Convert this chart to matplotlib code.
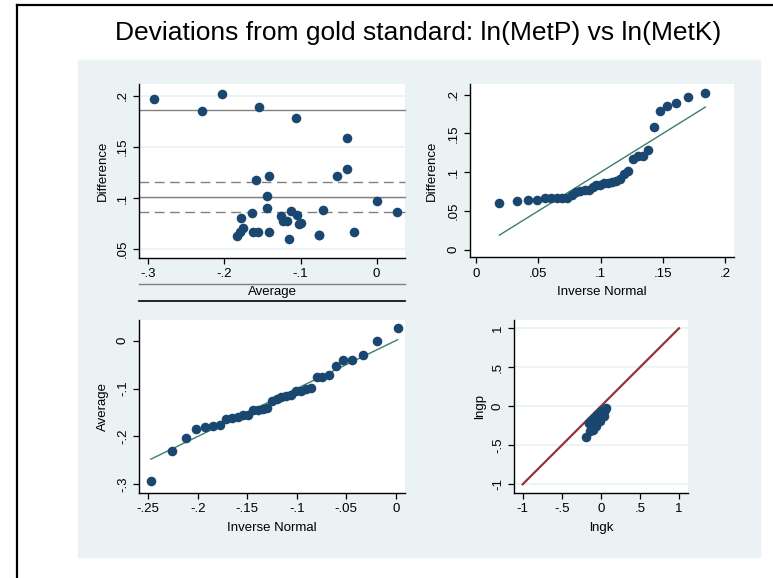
from statistics import NormalDist

import numpy as np
import matplotlib
matplotlib.use("Agg")
import matplotlib.pyplot as plt
from matplotlib.lines import Line2D
from matplotlib.patches import Rectangle

plt.rcParams["font.family"] = ["Liberation Sans", "DejaVu Sans"]

# Bland-Altman data: mean of the two logs and their difference
avg = [-0.2926, -0.230, -0.2028, -0.184, -0.1796, -0.1778, -0.1761, -0.1643,
       -0.162, -0.159, -0.156, -0.155, -0.1441, -0.1441, -0.1419, -0.1415,
       -0.1257, -0.1226, -0.1178, -0.1152, -0.1126, -0.1056, -0.1047, -0.1016,
       -0.099, -0.0762, -0.0752, -0.071, -0.0526, -0.0394, -0.0394, -0.0293,
       0.0, 0.0263]
diff = [0.1964, 0.1854, 0.2020, 0.0630, 0.0672, 0.0809, 0.0705, 0.0855,
        0.0672, 0.1173, 0.0672, 0.1890, 0.1017, 0.0907, 0.1212, 0.0672,
        0.0829, 0.0773, 0.0773, 0.0601, 0.0877, 0.1785, 0.0838, 0.0744,
        0.0754, 0.0643, 0.0643, 0.0884, 0.1212, 0.1587, 0.1284, 0.0672,
        0.0972, 0.0864]

tl_xticks = [-0.3, -0.2, -0.1, 0]
tl_yticks = [0.05, 0.1, 0.15, 0.2]
tr_xticks = [0, 0.05, 0.1, 0.15, 0.2]
tr_yticks = [0, 0.05, 0.1, 0.15, 0.2]
bl_xticks = [-0.25, -0.2, -0.15, -0.1, -0.05, 0]
bl_yticks = [-0.3, -0.2, -0.1, 0]
br_ticks = [-1, -0.5, 0, 0.5, 1]

TITLE = "Deviations from gold standard: ln(MetP) vs ln(MetK)"

NAVY = "#1a476f"
MAROON = "#90353b"
QLINE = "#3b7f6b"
GRID = "#eaf2f3"
REF = "#808080"

W, H = 773, 578
MS = 48


def px_rect(x0, y0, x1, y1):
    return [x0 / W, 1 - y1 / H, (x1 - x0) / W, (y1 - y0) / H]


def stata_fmt(v):
    s = f"{v:g}"
    if s.startswith("0."):
        s = s[1:]
    elif s.startswith("-0."):
        s = "-" + s[2:]
    return s


def style_axes(ax, xticks, yticks, xlabel, ylabel, grid=False):
    for side in ("top", "right"):
        ax.spines[side].set_visible(False)
    for side in ("left", "bottom"):
        ax.spines[side].set_linewidth(1.0)
    ax.set_xticks(xticks)
    ax.set_xticklabels([stata_fmt(v) for v in xticks])
    ax.set_yticks(yticks)
    ax.set_yticklabels([stata_fmt(v) for v in yticks], rotation=90, va="center")
    ax.tick_params(length=4, width=0.9, labelsize=9.5, pad=3.5)
    ax.set_xlabel(xlabel, fontsize=9.5, labelpad=1)
    ax.set_ylabel(ylabel, fontsize=9.5, labelpad=3)
    if grid:
        ax.yaxis.grid(True, color=GRID, linewidth=1.2)
        ax.set_axisbelow(True)


def qnorm_positions(values):
    vals = np.sort(np.asarray(values))
    n = len(vals)
    mu, sd = vals.mean(), vals.std(ddof=1)
    nd = NormalDist(mu, sd)
    q = np.array([nd.inv_cdf(i / (n + 1)) for i in range(1, n + 1)])
    return q, vals


fig = plt.figure(figsize=(W / 100, H / 100), dpi=100)
fig.patches.append(Rectangle((78 / W, 1 - 557 / H), (760 - 78) / W, (557 - 60) / H,
                             transform=fig.transFigure, color="#eaf2f3", zorder=-5))
fig.add_artist(Line2D([17 / W, 17 / W], [0, 1 - 5 / H], color="black", lw=1.6))
fig.add_artist(Line2D([17 / W, 1], [1 - 5 / H, 1 - 5 / H], color="black", lw=1.6))
fig.text(418 / W, 1 - 33 / H, TITLE, ha="center", va="center", fontsize=19)

avg_a = np.array(avg)
diff_a = np.array(diff)
n = len(diff_a)
d_mean = diff_a.mean()
d_sd = diff_a.std(ddof=1)
ci = 1.96 * d_sd / np.sqrt(n)

# top left: Bland-Altman
ax1 = fig.add_axes(px_rect(139.3, 84, 405, 257.7))
ax1.set_xlim(-0.3118, 0.0372)
ax1.set_ylim(0.0418, 0.2114)
style_axes(ax1, tl_xticks, tl_yticks, "Average", "Difference", grid=True)
for lvl in (d_mean + 1.96 * d_sd, d_mean, d_mean - 1.96 * d_sd):
    ax1.axhline(lvl, color=REF, lw=1.0, clip_on=False, zorder=1)
for lvl in (d_mean + ci, d_mean - ci):
    ax1.axhline(lvl, color=REF, lw=1.0, ls=(0, (7, 4)), clip_on=False, zorder=1)
ax1.axhline(0, color="black", lw=1.2, clip_on=False, zorder=1)
ax1.scatter(avg_a, diff_a, s=MS, color=NAVY, zorder=3, linewidths=0)
ax1.xaxis.set_label_coords(0.5, -0.165)
ax1.yaxis.set_label_coords(-0.115, 0.5)

# top right: qnorm of difference
ax2 = fig.add_axes(px_rect(470, 84, 734, 257.3))
ax2.set_xlim(-0.0048, 0.207)
ax2.set_ylim(-0.0098, 0.2138)
style_axes(ax2, tr_xticks, tr_yticks, "Inverse Normal", "Difference")
q, v = qnorm_positions(diff_a)
ax2.plot([q[0], q[-1]], [q[0], q[-1]], color=QLINE, lw=1.0, zorder=2)
ax2.scatter(q, v, s=MS, color=NAVY, zorder=3, linewidths=0)
ax2.xaxis.set_label_coords(0.5, -0.165)
ax2.yaxis.set_label_coords(-0.12, 0.5)

# bottom left: qnorm of average
ax3 = fig.add_axes(px_rect(139.3, 320, 405, 492.7))
ax3.set_xlim(-0.2591, 0.0094)
ax3.set_ylim(-0.3175, 0.0432)
style_axes(ax3, bl_xticks, bl_yticks, "Inverse Normal", "Average")
q, v = qnorm_positions(avg_a)
ax3.plot([q[0], q[-1]], [q[0], q[-1]], color=QLINE, lw=1.0, zorder=2)
ax3.scatter(q, v, s=MS, color=NAVY, zorder=3, linewidths=0)
ax3.xaxis.set_label_coords(0.5, -0.17)
ax3.yaxis.set_label_coords(-0.115, 0.5)

# bottom right: lngp against lngk with line of equality
lngk = avg_a + diff_a / 2
lngp = avg_a - diff_a / 2
ax4 = fig.add_axes(px_rect(514.3, 320, 687.7, 492.7))
ax4.set_xlim(-1.107, 1.111)
ax4.set_ylim(-1.108, 1.106)
style_axes(ax4, br_ticks, br_ticks, "lngk", "lngp", grid=True)
ax4.plot([br_ticks[0], br_ticks[-1]], [br_ticks[0], br_ticks[-1]], color=MAROON, lw=1.6, zorder=2)
ax4.scatter(lngk, lngp, s=MS, color=NAVY, zorder=3, linewidths=0)
ax4.xaxis.set_label_coords(0.5, -0.17)
ax4.yaxis.set_label_coords(-0.16, 0.5)

fig.savefig("out.png", dpi=100)
